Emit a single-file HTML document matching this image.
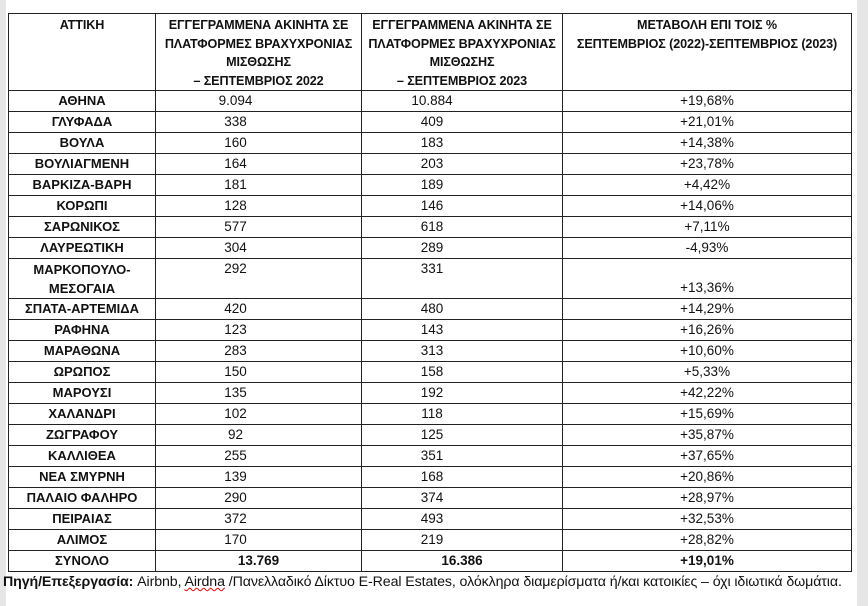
<!DOCTYPE html>
<html><head><meta charset="utf-8">
<style>
html,body{margin:0;padding:0;}
body{width:868px;height:606px;background:#fff;position:relative;overflow:hidden;font-family:"Liberation Sans","DejaVu Sans",sans-serif;color:#111;}
.gl{position:absolute;left:0;top:0;width:6px;height:606px;background:#e6e6e6;}
.gr{position:absolute;right:0;top:0;width:11px;height:606px;background:#e6e6e6;}
table{position:absolute;left:8px;top:13px;border-collapse:collapse;table-layout:fixed;}
td{border:1.5px solid #222;padding:0;font-size:13.5px;height:20px;line-height:20px;vertical-align:middle;white-space:nowrap;overflow:hidden;}
thead td{font-weight:bold;font-size:12.6px;line-height:18.5px;vertical-align:top;text-align:center;padding-top:2px;height:72px;letter-spacing:-0.1px;}
td.n{font-weight:bold;text-align:center;font-size:13px;}
td.a{text-align:center;padding-right:46px;}
td.b{text-align:center;padding-right:60px;}
td.c{text-align:center;}
tr.dbl td{height:39px;}
tr.tot td.a,tr.tot td.b{font-weight:bold;padding-right:0;}
tr.tot td.c{font-weight:bold;}
.foot{position:absolute;left:3px;top:574px;font-size:14.2px;white-space:nowrap;letter-spacing:-0.1px;}
.u{text-decoration:underline wavy red;text-decoration-thickness:1px;}
</style></head><body>
<div class="gl"></div><div class="gr"></div>
<table>
<colgroup><col style="width:147px"><col style="width:206px"><col style="width:201px"><col style="width:289px"></colgroup>
<thead><tr>
<td>ΑΤΤΙΚΗ</td>
<td>ΕΓΓΕΓΡΑΜΜΕΝΑ ΑΚΙΝΗΤΑ ΣΕ<br>ΠΛΑΤΦΟΡΜΕΣ ΒΡΑΧΥΧΡΟΝΙΑΣ<br>ΜΙΣΘΩΣΗΣ<br>– ΣΕΠΤΕΜΒΡΙΟΣ 2022</td>
<td>ΕΓΓΕΓΡΑΜΜΕΝΑ ΑΚΙΝΗΤΑ ΣΕ<br>ΠΛΑΤΦΟΡΜΕΣ ΒΡΑΧΥΧΡΟΝΙΑΣ<br>ΜΙΣΘΩΣΗΣ<br>– ΣΕΠΤΕΜΒΡΙΟΣ 2023</td>
<td>ΜΕΤΑΒΟΛΗ ΕΠΙ ΤΟΙΣ %<br>ΣΕΠΤΕΜΒΡΙΟΣ (2022)-ΣΕΠΤΕΜΒΡΙΟΣ (2023)</td>
</tr></thead>
<tbody>
<tr><td class="n">ΑΘΗΝΑ</td><td class="a">9.094</td><td class="b">10.884</td><td class="c">+19,68%</td></tr>
<tr><td class="n">ΓΛΥΦΑΔΑ</td><td class="a">338</td><td class="b">409</td><td class="c">+21,01%</td></tr>
<tr><td class="n">ΒΟΥΛΑ</td><td class="a">160</td><td class="b">183</td><td class="c">+14,38%</td></tr>
<tr><td class="n">ΒΟΥΛΙΑΓΜΕΝΗ</td><td class="a">164</td><td class="b">203</td><td class="c">+23,78%</td></tr>
<tr><td class="n">ΒΑΡΚΙΖΑ-ΒΑΡΗ</td><td class="a">181</td><td class="b">189</td><td class="c">+4,42%</td></tr>
<tr><td class="n">ΚΟΡΩΠΙ</td><td class="a">128</td><td class="b">146</td><td class="c">+14,06%</td></tr>
<tr><td class="n">ΣΑΡΩΝΙΚΟΣ</td><td class="a">577</td><td class="b">618</td><td class="c">+7,11%</td></tr>
<tr><td class="n">ΛΑΥΡΕΩΤΙΚΗ</td><td class="a">304</td><td class="b">289</td><td class="c">-4,93%</td></tr>
<tr class="dbl"><td class="n" style="line-height:19px">ΜΑΡΚΟΠΟΥΛΟ-<br>ΜΕΣΟΓΑΙΑ</td><td class="a" style="vertical-align:top">292</td><td class="b" style="vertical-align:top">331</td><td class="c" style="vertical-align:bottom">+13,36%</td></tr>
<tr><td class="n">ΣΠΑΤΑ-ΑΡΤΕΜΙΔΑ</td><td class="a">420</td><td class="b">480</td><td class="c">+14,29%</td></tr>
<tr><td class="n">ΡΑΦΗΝΑ</td><td class="a">123</td><td class="b">143</td><td class="c">+16,26%</td></tr>
<tr><td class="n">ΜΑΡΑΘΩΝΑ</td><td class="a">283</td><td class="b">313</td><td class="c">+10,60%</td></tr>
<tr><td class="n">ΩΡΩΠΟΣ</td><td class="a">150</td><td class="b">158</td><td class="c">+5,33%</td></tr>
<tr><td class="n">ΜΑΡΟΥΣΙ</td><td class="a">135</td><td class="b">192</td><td class="c">+42,22%</td></tr>
<tr><td class="n">ΧΑΛΑΝΔΡΙ</td><td class="a">102</td><td class="b">118</td><td class="c">+15,69%</td></tr>
<tr><td class="n">ΖΩΓΡΑΦΟΥ</td><td class="a">92</td><td class="b">125</td><td class="c">+35,87%</td></tr>
<tr><td class="n">ΚΑΛΛΙΘΕΑ</td><td class="a">255</td><td class="b">351</td><td class="c">+37,65%</td></tr>
<tr><td class="n">ΝΕΑ ΣΜΥΡΝΗ</td><td class="a">139</td><td class="b">168</td><td class="c">+20,86%</td></tr>
<tr><td class="n">ΠΑΛΑΙΟ ΦΑΛΗΡΟ</td><td class="a">290</td><td class="b">374</td><td class="c">+28,97%</td></tr>
<tr><td class="n">ΠΕΙΡΑΙΑΣ</td><td class="a">372</td><td class="b">493</td><td class="c">+32,53%</td></tr>
<tr><td class="n">ΑΛΙΜΟΣ</td><td class="a">170</td><td class="b">219</td><td class="c">+28,82%</td></tr>
<tr class="tot"><td class="n">ΣΥΝΟΛΟ</td><td class="a">13.769</td><td class="b">16.386</td><td class="c">+19,01%</td></tr>
</tbody></table>
<div class="foot"><b>Πηγή/Επεξεργασία:</b> Airbnb, <span class="u">Airdna</span> /Πανελλαδικό Δίκτυο E-Real Estates, ολόκληρα διαμερίσματα ή/και κατοικίες – όχι ιδιωτικά δωμάτια.</div>
</body></html>
